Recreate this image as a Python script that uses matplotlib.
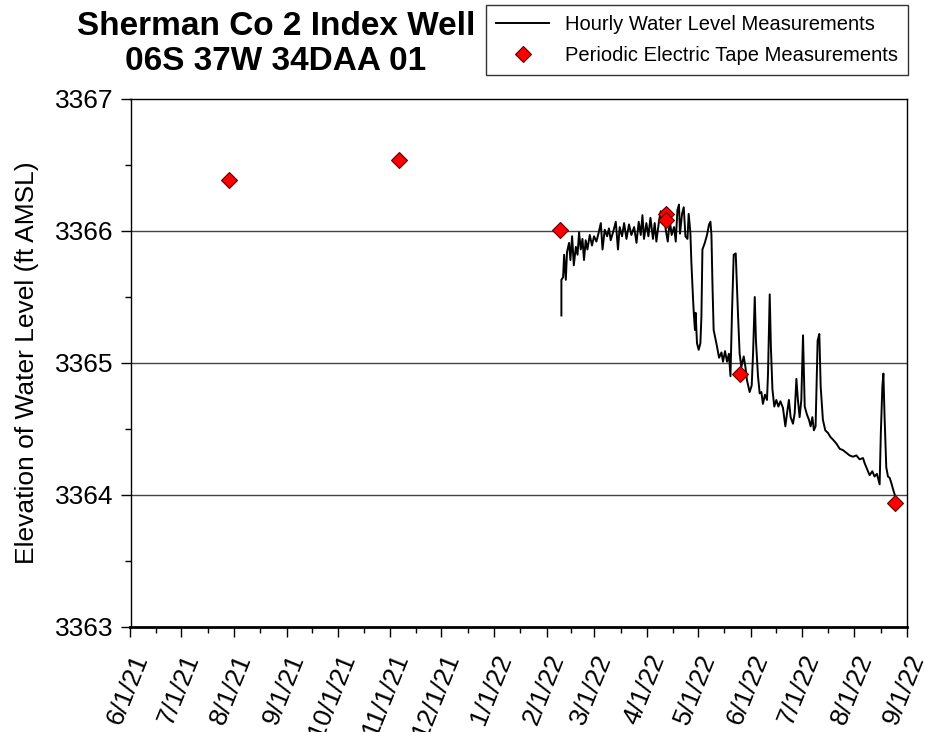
import pandas as pd
import numpy as np
import matplotlib
matplotlib.use('Agg')
import matplotlib.pyplot as plt
from matplotlib.ticker import MultipleLocator, FuncFormatter

plt.rcParams['font.family'] = ['Liberation Sans', 'DejaVu Sans']

start = pd.Timestamp('2021-06-01')

# hourly transducer record (days after 6/1/21, ft AMSL)
hourly_day = [253.6, 253.6, 254.6, 255.2, 256.2, 256.9, 258.1, 258.9, 259.9, 260.9,
              262.1, 263.1, 264.0, 265.0, 266.0, 266.9, 267.9, 268.9, 270.3, 271.6,
              272.8, 274.2, 275.4, 276.8, 277.8, 279.1, 280.5, 281.6, 282.6, 284.0,
              285.6, 286.9, 287.9, 289.3, 290.5, 291.9, 293.4, 294.8, 296.4, 297.8,
              299.1, 300.3, 301.3, 302.2, 303.6, 304.8, 306.0, 307.5, 308.5, 309.5,
              311.1, 312.1, 312.8, 313.8, 315.0, 316.2, 317.4, 318.5, 319.9, 320.9,
              321.9, 322.8, 323.4, 324.6, 325.6, 326.6, 327.8, 328.5, 329.5, 330.1,
              331.1, 331.6, 332.2, 332.6, 333.4, 334.4, 335.4, 336.0, 336.6, 338.0,
              339.3, 340.5, 341.3, 341.9, 342.5, 343.2, 344.8, 346.4, 347.8, 348.7,
              349.9, 351.1, 352.2, 353.1, 354.0, 355.0, 356.2, 357.5, 358.5, 359.5,
              360.9, 361.9, 362.8, 364.4, 365.6, 366.4, 367.4, 368.1, 369.3, 370.3,
              371.3, 372.2, 373.4, 374.6, 375.2, 376.2, 376.9, 377.8, 378.9, 380.1,
              381.3, 382.5, 384.0, 385.4, 386.4, 387.5, 388.5, 389.9, 390.9, 391.9,
              392.8, 393.8, 394.8, 395.8, 396.8, 398.1, 399.3, 400.3, 401.3, 402.2,
              403.2, 404.4, 405.4, 406.2, 407.5, 408.9, 410.5, 411.9, 413.4, 415.4,
              417.4, 419.3, 421.3, 423.2, 425.2, 427.2, 429.1, 431.1, 432.1, 433.4,
              435.0, 436.6, 437.9, 439.3, 440.9, 441.6, 442.5, 443.1, 443.8, 444.8,
              445.8, 446.8, 447.8, 449.1, 450.1]
hourly_level = [3365.36, 3365.63, 3365.65, 3365.82, 3365.63, 3365.84, 3365.91, 3365.78, 3365.96, 3365.74,
                3365.88, 3365.82, 3365.99, 3365.86, 3365.94, 3365.78, 3365.93, 3365.86, 3365.97, 3365.89,
                3365.96, 3365.92, 3365.98, 3366.06, 3365.86, 3366.01, 3365.96, 3366.02, 3365.93, 3365.99,
                3366.07, 3365.86, 3366.03, 3365.96, 3366.06, 3365.94, 3366.05, 3365.97, 3366.03, 3365.91,
                3366.07, 3365.97, 3366.12, 3365.94, 3366.06, 3365.96, 3366.10, 3365.94, 3366.06, 3365.92,
                3366.08, 3366.15, 3366.06, 3366.16, 3366.01, 3365.92, 3366.08, 3365.97, 3366.03, 3365.92,
                3366.16, 3366.20, 3365.98, 3366.13, 3366.18, 3365.96, 3365.94, 3366.13, 3365.99, 3365.76,
                3365.48, 3365.36, 3365.25, 3365.38, 3365.15, 3365.10, 3365.15, 3365.35, 3365.86, 3365.91,
                3365.97, 3366.05, 3366.07, 3365.97, 3365.60, 3365.25, 3365.15, 3365.04, 3365.08, 3365.01,
                3365.09, 3365.01, 3365.07, 3364.90, 3365.38, 3365.82, 3365.83, 3365.38, 3365.07, 3364.97,
                3365.05, 3364.97, 3364.87, 3364.78, 3364.83, 3365.07, 3365.50, 3365.17, 3364.90, 3364.77,
                3364.78, 3364.69, 3364.76, 3364.72, 3364.92, 3365.52, 3365.12, 3364.80, 3364.67, 3364.72,
                3364.67, 3364.71, 3364.66, 3364.52, 3364.62, 3364.72, 3364.59, 3364.54, 3364.62, 3364.88,
                3364.72, 3364.59, 3364.72, 3365.21, 3364.67, 3364.61, 3364.57, 3364.52, 3364.59, 3364.49,
                3364.52, 3365.17, 3365.22, 3364.82, 3364.57, 3364.49, 3364.47, 3364.44, 3364.42, 3364.39,
                3364.35, 3364.34, 3364.32, 3364.30, 3364.29, 3364.30, 3364.27, 3364.28, 3364.24, 3364.20,
                3364.15, 3364.18, 3364.14, 3364.16, 3364.08, 3364.47, 3364.82, 3364.92, 3364.59, 3364.21,
                3364.14, 3364.13, 3364.09, 3364.03, 3363.99]

# electric tape measurements
tape_date = ['2021-07-29', '2021-11-06', '2022-02-09', '2022-04-12', '2022-04-12',
             '2022-05-26', '2022-08-25']
tape_level = [3366.39, 3366.54, 3366.01, 3366.13, 3366.08, 3364.92, 3363.94]

month_ticks = pd.date_range('2021-06-01', '2022-09-01', freq='MS')
mid_ticks = month_ticks[:-1] + (month_ticks[1:] - month_ticks[:-1]) / 2

hourly_t = start + pd.to_timedelta(hourly_day, unit='D')
tape_t = pd.to_datetime(tape_date)

fig = plt.figure(figsize=(9.25, 7.32), dpi=100)
ax = fig.add_axes([130.5 / 925, 1 - 627 / 732, (907 - 130.5) / 925, (627 - 99) / 732])

for yv in [3364, 3365, 3366]:
    ax.axhline(yv, color='#444444', lw=1.0, zorder=1)

ax.plot(hourly_t, hourly_level, color='black', lw=1.4, zorder=2,
        label='Hourly Water Level Measurements')
ax.plot(tape_t, tape_level, 'D', color='red', mec='#600000', mew=0.8, ms=8.5,
        zorder=3, label='Periodic Electric Tape Measurements')

ax.set_xlim(month_ticks[0], month_ticks[-1])
ax.set_ylim(3363, 3367)
ax.set_xticks(month_ticks)
ax.set_xticks(mid_ticks, minor=True)
ax.set_xticklabels([f'{d.month}/{d.day}/{d.year % 100}' for d in month_ticks],
                   rotation=68, ha='right', va='top', rotation_mode='anchor')
ax.yaxis.set_major_locator(MultipleLocator(1))
ax.yaxis.set_minor_locator(MultipleLocator(0.5))
ax.yaxis.set_major_formatter(FuncFormatter(lambda v, p: f'{v:.0f}'))

ax.tick_params(axis='both', which='major', direction='out', length=7, width=1,
               labelsize=19, color='black')
ax.tick_params(axis='both', which='minor', direction='out', length=4, width=1)
ax.tick_params(axis='x', pad=10)
ax.tick_params(axis='y', pad=5)
for s in ['left', 'right', 'top']:
    ax.spines[s].set_linewidth(1)
ax.spines['bottom'].set_linewidth(2)

ax.set_ylabel('Elevation of Water Level (ft AMSL)', fontsize=19, labelpad=12)

fig.text(276 / 925, 1 - 11 / 732, 'Sherman Co 2 Index Well\n06S 37W 34DAA 01',
         ha='center', va='top', fontsize=24, fontweight='bold', linespacing=1.15)

leg = fig.legend(loc='upper right', bbox_to_anchor=(908 / 925, 1 - 5 / 732),
                 fontsize=14.5, frameon=True, fancybox=False, borderaxespad=0,
                 handlelength=2.6, borderpad=0.5, labelspacing=0.6)
leg.get_frame().set_edgecolor('black')
leg.get_frame().set_linewidth(1)

fig.savefig('out.png', dpi=100)
